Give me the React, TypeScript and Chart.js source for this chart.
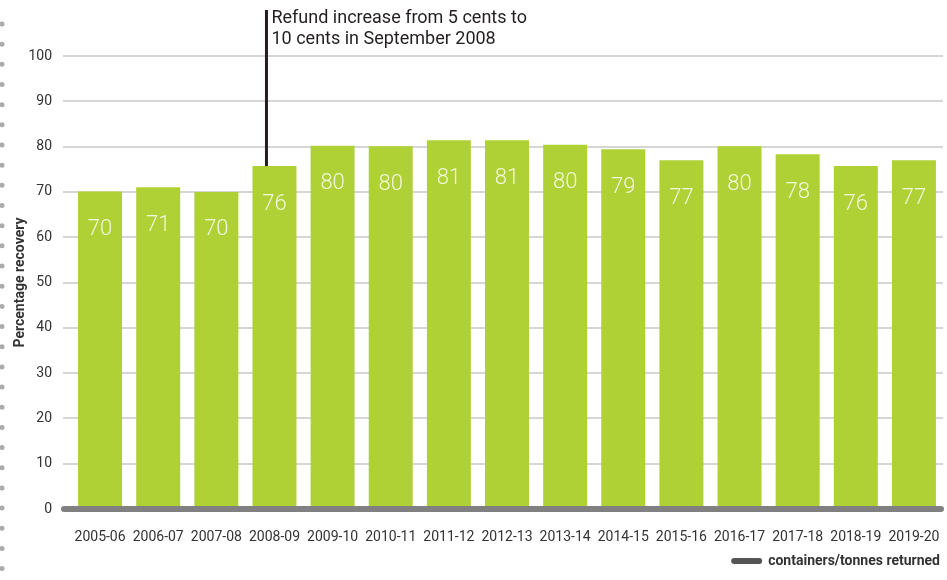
import React, { useEffect, useRef } from "react";
import { Chart, registerables } from "chart.js";

Chart.register(...registerables);

const categories = [
  "2005-06", "2006-07", "2007-08", "2008-09", "2009-10", "2010-11", "2011-12", "2012-13",
  "2013-14", "2014-15", "2015-16", "2016-17", "2017-18", "2018-19", "2019-20",
];
const recovery = [70.1, 71.0, 70.0, 75.7, 80.2, 80.1, 81.4, 81.4, 80.4, 79.4, 77.0, 80.1, 78.3, 75.7, 77.0];
const annotationIndex = 3;
const annotationLines = ["Refund increase from 5 cents to", "10 cents in September 2008"];
const legendLabel = "containers/tonnes returned";
const yTitle = "Percentage recovery";

const FONT = "Roboto, 'Noto Sans', sans-serif";

const decorPlugin = {
  id: "decor",
  beforeDraw(chart: any) {
    const ctx = chart.ctx;
    ctx.save();
    ctx.fillStyle = "#ababab";
    for (let y = 24; y < chart.height; y += 20.17) {
      ctx.beginPath();
      ctx.arc(2, y, 2.5, 0, Math.PI * 2);
      ctx.fill();
    }
    ctx.restore();
  },
  afterDatasetsDraw(chart: any) {
    const ctx = chart.ctx;
    const xs = chart.scales.x;
    const ys = chart.scales.y;
    const area = chart.chartArea;
    ctx.save();
    // zero baseline
    const y0 = ys.getPixelForValue(0);
    ctx.strokeStyle = "#808080";
    ctx.lineWidth = 6;
    ctx.lineCap = "round";
    ctx.beginPath();
    ctx.moveTo(area.left - 7, y0);
    ctx.lineTo(area.right - 2, y0);
    ctx.stroke();

    // value labels
    const meta = chart.getDatasetMeta(0);
    ctx.fillStyle = "#f1f7da";
    ctx.font = `300 22px ${FONT}`;
    ctx.textAlign = "center";
    ctx.textBaseline = "middle";
    meta.data.forEach((bar: any, i: number) => {
      ctx.fillText(String(Math.round(recovery[i])), bar.x, bar.y + 38);
    });

    // annotation
    const ax = xs.getPixelForValue(annotationIndex) - 8;
    const ay = ys.getPixelForValue(recovery[annotationIndex]);
    ctx.strokeStyle = "#231f20";
    ctx.lineWidth = 3;
    ctx.lineCap = "butt";
    ctx.beginPath();
    ctx.moveTo(ax, 10);
    ctx.lineTo(ax, ay);
    ctx.stroke();
    ctx.fillStyle = "#231f20";
    ctx.font = `18px ${FONT}`;
    ctx.textAlign = "left";
    ctx.textBaseline = "middle";
    annotationLines.forEach((t, i) => ctx.fillText(t, ax + 5, 18 + i * 21));

    // legend
    ctx.font = `bold 14px ${FONT}`;
    ctx.textAlign = "right";
    ctx.fillStyle = "#333333";
    const ly = 561;
    const rightEdge = chart.width - 7;
    ctx.fillText(legendLabel, rightEdge, ly);
    const tw = ctx.measureText(legendLabel).width;
    const lineEnd = rightEdge - tw - 9;
    ctx.strokeStyle = "#555555";
    ctx.lineWidth = 6;
    ctx.lineCap = "round";
    ctx.beginPath();
    ctx.moveTo(lineEnd - 25, ly);
    ctx.lineTo(lineEnd, ly);
    ctx.stroke();
    ctx.restore();
  },
};

export default function App() {
  const ref = useRef<HTMLCanvasElement>(null);
  useEffect(() => {
    if (!ref.current) return;
    const chart = new Chart(ref.current, {
      type: "bar",
      data: {
        labels: categories,
        datasets: [
          {
            label: legendLabel,
            data: recovery,
            backgroundColor: "#b0d136",
            borderWidth: 0,
            barPercentage: 0.757,
            categoryPercentage: 1,
          },
        ],
      },
      options: {
        animation: false,
        responsive: false,
        devicePixelRatio: 1,
        layout: { padding: { top: 56, right: 4, bottom: 34, left: 0 } },
        plugins: {
          legend: { display: false },
          tooltip: { enabled: false },
        },
        scales: {
          x: {
            grid: { display: false, drawTicks: false },
            border: { display: false },
            ticks: { padding: 20, color: "#333333", font: { family: FONT, size: 14 }, maxRotation: 0, autoSkip: false },
            afterFit(scale: any) {
              scale.height = 37;
              scale.paddingLeft = 0;
              scale.paddingRight = 0;
            },
          },
          y: {
            min: 0,
            max: 100,
            ticks: { stepSize: 10, padding: 11, color: "#333333", font: { family: FONT, size: 14 } },
            grid: { color: "#d6d6d6", lineWidth: 2, drawTicks: true, tickLength: 8, tickColor: "#d6d6d6", tickWidth: 2 },
            border: { display: false },
            title: {
              display: true,
              text: yTitle,
              color: "#333333",
              font: { family: FONT, size: 14, weight: "bold" },
              padding: { top: 12, bottom: 0 },
            },
            afterFit(scale: any) {
              scale.width = 71;
              scale.paddingTop = 0;
              scale.paddingBottom = 0;
            },
          },
        },
      },
      plugins: [decorPlugin],
    });
    return () => chart.destroy();
  }, []);
  return (
    <div style={{ position: "fixed", left: 0, top: 0, width: 947, height: 580, background: "#fff" }}>
      <canvas ref={ref} width={947} height={580} style={{ display: "block", width: 947, height: 580 }} />
    </div>
  );
}
